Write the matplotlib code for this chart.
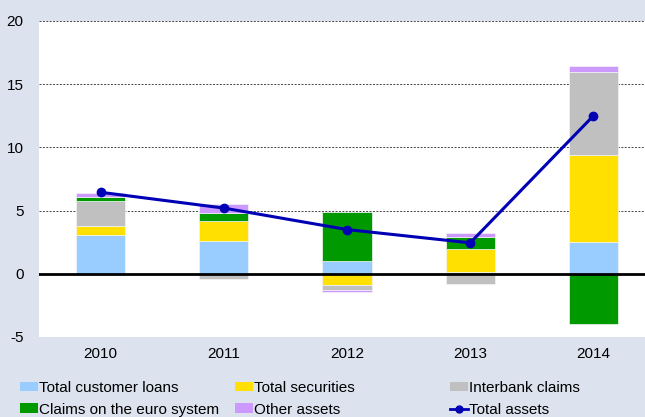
import numpy as np
import matplotlib
matplotlib.use('Agg')
import matplotlib.pyplot as plt
from matplotlib.patches import Patch
from matplotlib.lines import Line2D

plt.rcParams['font.family'] = ['Liberation Sans', 'DejaVu Sans']
plt.rcParams['axes.unicode_minus'] = False

years = ['2010', '2011', '2012', '2013', '2014']
loans = [3.07, 2.56, 1.0, 0.16, 2.5]
securities = [0.68, 1.6, -0.9, 1.82, 6.9]
interbank = [1.99, -0.38, -0.4, -0.82, 6.6]
euro_system = [0.32, 0.64, 3.9, 0.9, -3.95]
other = [0.37, 0.69, -0.15, 0.32, 0.47]
total = [6.45, 5.2, 3.5, 2.45, 12.5]

names = ['Total customer loans', 'Total securities', 'Interbank claims',
         'Claims on the euro system', 'Other assets']
series = [loans, securities, interbank, euro_system, other]
colors = ['#99CCFF', '#FFE000', '#C0C0C0', '#009900', '#CC99FF']
bg = '#DCE2EE'

fig = plt.figure(figsize=(6.45, 4.17), dpi=100, facecolor=bg)
ax = fig.add_axes([39 / 645, 1 - 337 / 417, 616 / 645, 316 / 417])
ax.set_facecolor('white')

x = np.arange(len(years))
pos_base = np.zeros(len(years))
neg_base = np.zeros(len(years))
for vals, col in zip(series, colors):
    vals = np.array(vals)
    bottoms = np.where(vals >= 0, pos_base, neg_base)
    ax.bar(x, vals, 0.4, bottom=bottoms, color=col, edgecolor='#F4F4F4',
           linewidth=0.5, zorder=3)
    pos_base = pos_base + np.where(vals >= 0, vals, 0)
    neg_base = neg_base + np.where(vals < 0, vals, 0)

ax.plot(x, total, color='#0000B4', linewidth=2.2, marker='o', markersize=6,
        zorder=5)
ax.axhline(0, color='black', linewidth=2, zorder=4)

ax.set_xlim(-0.5, 4.5)
ax.set_ylim(-5, 20)
ax.set_yticks([-5, 0, 5, 10, 15, 20])
ax.set_xticks(x)
ax.set_xticklabels(years)
ax.yaxis.grid(True, color='#444444', linestyle=(0, (2, 1.5)), linewidth=0.7)
ax.set_axisbelow(True)
for s in ax.spines.values():
    s.set_visible(False)
ax.tick_params(axis='both', length=0, labelsize=11, colors='black')
ax.tick_params(axis='y', pad=11)
ax.tick_params(axis='x', pad=7)

# legend, three columns placed by hand
cols = [[(names[0], colors[0]), (names[3], colors[3])],
        [(names[1], colors[1]), (names[4], colors[4])],
        [(names[2], colors[2]), ('Total assets', None)]]
for i, col in enumerate(cols):
    handles = []
    labels = []
    for lab, c in col:
        if c is None:
            handles.append(Line2D([], [], color='#0000B4', linewidth=2,
                                  marker='o', markersize=5))
        else:
            handles.append(Patch(facecolor=c, edgecolor='none'))
        labels.append(lab)
    fig.legend(handles, labels, loc='upper left',
               bbox_to_anchor=((20 + 215 * i) / 645, 1 - 381 / 417),
               frameon=False, fontsize=11, handlelength=1.15, handleheight=0.6,
               handletextpad=0.08, labelspacing=0.5, borderpad=0.0,
               borderaxespad=0)

fig.savefig('out.png', dpi=100, facecolor=bg)
